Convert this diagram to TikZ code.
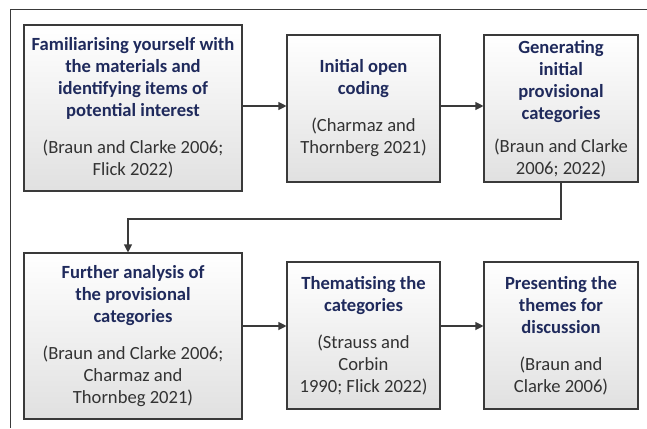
\documentclass[tikz,border=0pt]{standalone}
\usepackage{fontspec}
\setmainfont{Carlito}
\usetikzlibrary{arrows.meta,shadows}
\definecolor{navy}{HTML}{1F2A5C}
\definecolor{bodytext}{HTML}{333333}
\definecolor{edge}{HTML}{3A3A3A}
\tikzset{
  stage/.style={draw=edge, line width=1.1pt, top color=white, middle color=white, bottom color=black!12,
    align=center, inner sep=0pt, font=\fontsize{18.6}{22}\selectfont, text=bodytext,
    drop shadow={shadow xshift=1.2pt, shadow yshift=-1.2pt, fill=black!25, opacity=0.6}},
  flow/.style={draw=edge, line width=1.1pt, -{Triangle[length=8pt,width=8pt]}},
}
\newcommand{\ttl}[1]{{\bfseries\color{navy}#1}}
\begin{document}
\begin{tikzpicture}[x=1pt,y=1pt]
\useasboundingbox (0,0) rectangle (647,-428);
\fill[white] (0,0) rectangle (647,-428);
\draw[edge, line width=1pt] (647,-10) -- (10,-10) -- (10,-428);
\node[stage, minimum width=218pt, minimum height=166pt] (b1) at (133,-108)
  {\ttl{Familiarising yourself with}\\\ttl{the materials and}\\\ttl{identifying items of}\\\ttl{potential interest}\\[15pt](Braun and Clarke 2006;\\Flick 2022)};
\node[stage, minimum width=153pt, minimum height=147pt] (b2) at (363.5,-108.5)
  {\ttl{Initial open}\\\ttl{coding}\\[15pt](Charmaz and\\Thornberg 2021)};
\node[stage, minimum width=154pt, minimum height=147pt] (b3) at (561,-108.5)
  {\ttl{Generating}\\\ttl{initial}\\\ttl{provisional}\\\ttl{categories}\\[11pt](Braun and Clarke\\2006; 2022)};
\node[stage, minimum width=218pt, minimum height=166pt] (b4) at (133,-336)
  {\ttl{Further analysis of}\\\ttl{the provisional}\\\ttl{categories}\\[15pt](Braun and Clarke 2006;\\Charmaz and\\Thornbeg 2021)};
\node[stage, minimum width=153pt, minimum height=147pt] (b5) at (363.5,-335.5)
  {\ttl{Thematising the}\\\ttl{categories}\\[15pt](Strauss and\\Corbin\\1990; Flick 2022)};
\node[stage, minimum width=154pt, minimum height=147pt] (b6) at (561,-335.5)
  {\ttl{Presenting the}\\\ttl{themes for}\\\ttl{discussion}\\[15pt](Braun and\\Clarke 2006)};
\draw[flow] (b1.east |- 0,-106) -- (b2.west |- 0,-106);
\draw[flow] (b2.east |- 0,-106) -- (b3.west |- 0,-106);
\coordinate (turn) at (561,-219);
\coordinate (drop) at (128,-219);
\draw[flow] (b3.south) -- (turn) -- (drop) -- (drop |- b4.north);
\draw[flow] (b4.east |- 0,-326) -- (b5.west |- 0,-326);
\draw[flow] (b5.east |- 0,-326) -- (b6.west |- 0,-326);
\end{tikzpicture}
\end{document}
